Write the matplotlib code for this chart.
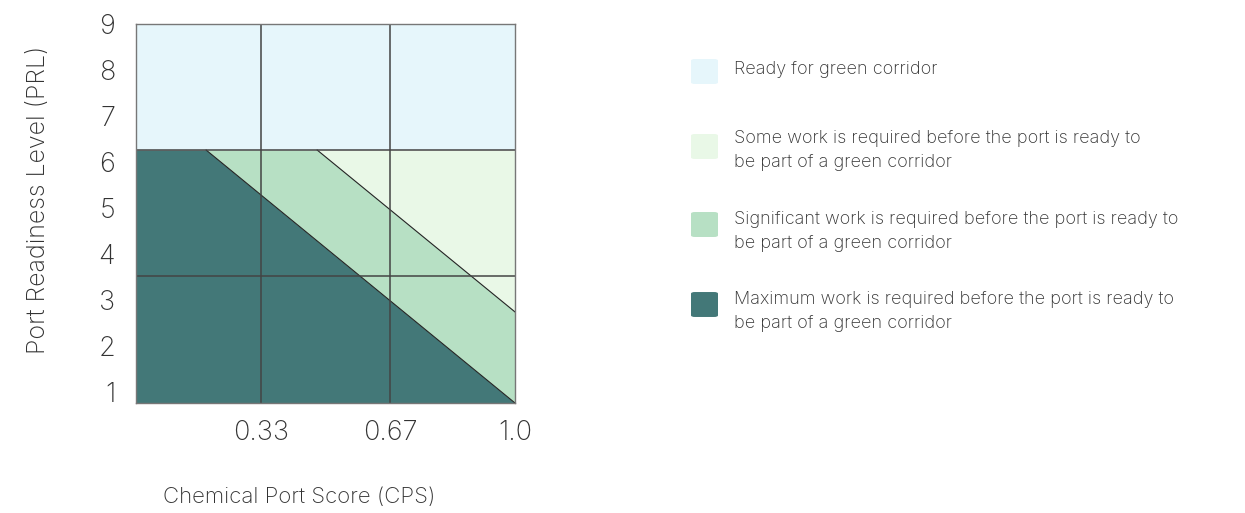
import matplotlib
matplotlib.use("Agg")
import matplotlib.pyplot as plt
from matplotlib.patches import FancyBboxPatch

plt.rcParams['font.family'] = ['Inter', 'DejaVu Sans']

# ---- data ----
cps_tick_pos = [0.33, 0.67, 1.0]
cps_tick_labels = ["0.33", "0.67", "1.0"]
prl_ticks = [1, 2, 3, 4, 5, 6, 7, 8, 9]
prl_min, prl_max = 0.76, 9.0
prl_grid = [3.52, 6.26]

cps_knots = [0.0, 0.185, 0.478, 1.0]
max_top = [6.26, 6.26, 4.28, 0.76]      # upper edge of "Maximum work"
sig_top = [6.26, 6.26, 6.26, 2.74]      # upper edge of "Significant work"
some_top = [6.26, 6.26, 6.26, 6.26]     # upper edge of "Some work"
ready_top = [9.0, 9.0, 9.0, 9.0]        # upper edge of "Ready"

line1_cps = [0.185, 1.0]
line1_prl = [6.26, 0.76]
line2_cps = [0.478, 1.0]
line2_prl = [6.26, 2.74]

labels = ["Ready for green corridor",
          "Some work is required before the port is ready to\nbe part of a green corridor",
          "Significant work is required before the port is ready to\nbe part of a green corridor",
          "Maximum work is required before the port is ready to\nbe part of a green corridor"]
colors = ["#E6F6FB", "#E9F8E7", "#B7E0C4", "#437878"]

text_color = "#333333"

fig = plt.figure(figsize=(12.45, 5.13), dpi=100)
ax = fig.add_axes([136/1245, 110/513, 379/1245, 379/513])

ax.fill_between(cps_knots, prl_min, max_top, color=colors[3], lw=0)
ax.fill_between(cps_knots, max_top, sig_top, color=colors[2], lw=0)
ax.fill_between(cps_knots, sig_top, some_top, color=colors[1], lw=0)
ax.fill_between(cps_knots, some_top, ready_top, color=colors[0], lw=0)

ax.plot(line1_cps, line1_prl, color="#222222", lw=0.8, zorder=3)
ax.plot(line2_cps, line2_prl, color="#222222", lw=0.8, zorder=3)

for x in cps_tick_pos[:-1]:
    ax.axvline(x, color="#444444", lw=1.1, zorder=4)
for y in prl_grid:
    ax.axhline(y, color="#444444", lw=1.1, zorder=4)

ax.set_xlim(0, 1)
ax.set_ylim(prl_min, prl_max)
ax.set_xticks(cps_tick_pos)
ax.set_xticklabels(cps_tick_labels)
ax.set_yticks(prl_ticks)
ax.set_yticklabels([str(t) for t in prl_ticks])
ax.tick_params(axis='both', length=0, labelsize=19.5, colors=text_color)
ax.tick_params(axis='x', pad=12)
ax.tick_params(axis='y', pad=15)
for lab in ax.get_xticklabels() + ax.get_yticklabels():
    lab.set_fontweight('light')
for s in ax.spines.values():
    s.set_color("#777777")
    s.set_linewidth(1.0)
    s.set_zorder(5)

fig.text(299/1245, 1 - 497/513, "Chemical Port Score (CPS)", ha='center', va='center',
         fontsize=16, color=text_color, fontweight='light')
fig.text(39/1245, 1 - 200/513, "Port Readiness Level (PRL)", ha='center', va='center',
         rotation=90, fontsize=18, color=text_color, fontweight='light')

# legend
sq_tops = [58, 133, 211, 291]
txt_first = [69, 139, 220, 300]
line_gap = 24
for i in range(4):
    p = FancyBboxPatch((691/1245 + 0.0015, 1 - (sq_tops[i] + 27)/513 + 0.0035),
                       27/1245 - 0.003, 27/513 - 0.007,
                       boxstyle="round,pad=0.0015,rounding_size=0.003",
                       transform=fig.transFigure, facecolor=colors[i], edgecolor='none')
    fig.patches.append(p)
    for j, line in enumerate(labels[i].split("\n")):
        fig.text(734/1245, 1 - (txt_first[i] + j * line_gap)/513, line, ha='left', va='center',
                 fontsize=13, color=text_color, fontweight='light')

fig.savefig("out.png", dpi=100)
